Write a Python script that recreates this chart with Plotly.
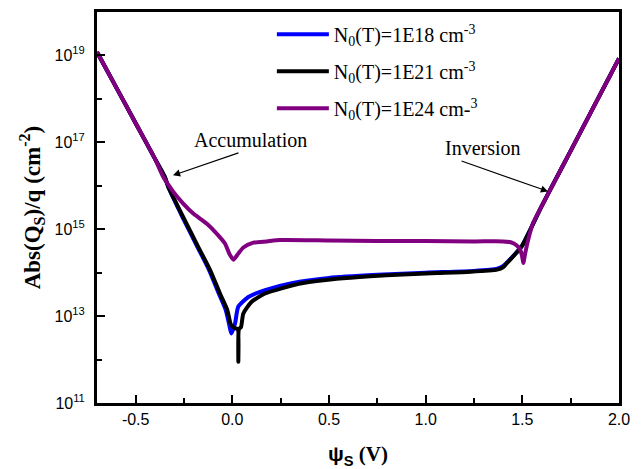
import numpy as np
import plotly.graph_objects as go

# Surface potential psi_S (V) and log10 of |Q_S|/q (cm^-2) for each trap density
psi_blue = [-0.70, -0.60, -0.50, -0.40, -0.35, -0.331, -0.258, -0.18, -0.12, -0.07,
            -0.034, -0.016, -0.005, 0.014, 0.031, 0.083, 0.169, 0.307, 0.50, 0.75,
            1.00, 1.25, 1.37, 1.40, 1.45, 1.50, 1.54, 1.60, 1.70, 1.80, 1.90, 2.00]
logq_blue = [19.08, 18.26, 17.44, 16.62, 16.21, 15.97, 15.28, 14.59, 14.06, 13.52,
             13.14, 12.80, 12.60, 12.83, 13.22, 13.44, 13.60, 13.76, 13.88, 13.95,
             14.00, 14.04, 14.09, 14.15, 14.37, 14.63, 14.98, 15.53, 16.38, 17.23, 18.08, 18.93]

psi_black = [-0.70, -0.60, -0.50, -0.40, -0.35, -0.331, -0.254, -0.176, -0.115, -0.064,
             -0.026, -0.007, 0.014, 0.028, 0.031, 0.034, 0.045, 0.057, 0.100, 0.169,
             0.255, 0.366, 0.54, 0.712, 0.883, 1.06, 1.23, 1.37, 1.40, 1.42, 1.45,
             1.50, 1.54, 1.60, 1.70, 1.80, 1.90, 2.00]
logq_black = [19.08, 18.26, 17.44, 16.62, 16.21, 15.97, 15.28, 14.59, 14.06, 13.52,
              13.14, 12.80, 12.72, 12.70, 11.95, 12.70, 12.75, 13.06, 13.33, 13.52,
              13.64, 13.76, 13.86, 13.92, 13.96, 13.99, 14.02, 14.07, 14.12, 14.22, 14.36,
              14.63, 14.98, 15.53, 16.38, 17.23, 18.08, 18.93]

psi_purple = [-0.70, -0.60, -0.50, -0.40, -0.357, -0.305, -0.254, -0.202, -0.133, -0.081,
              -0.038, -0.016, 0.005, 0.031, 0.057, 0.109, 0.178, 0.247, 0.50, 0.75,
              1.00, 1.25, 1.40, 1.44, 1.47, 1.49, 1.50, 1.505, 1.515, 1.53, 1.555,
              1.60, 1.70, 1.80, 1.90, 2.00]
logq_purple = [19.08, 18.26, 17.44, 16.62, 16.20, 15.86, 15.59, 15.36, 15.13, 14.90,
               14.67, 14.44, 14.30, 14.44, 14.58, 14.69, 14.72, 14.75, 14.74, 14.73,
               14.73, 14.72, 14.72, 14.70, 14.63, 14.52, 14.35, 14.22, 14.45, 14.75, 15.14,
               15.53, 16.38, 17.23, 18.08, 18.93]

series = [
    ("N<sub>0</sub>(T)=1E18 cm<sup>-3</sup>", psi_blue, logq_blue, "#0000FF"),
    ("N<sub>0</sub>(T)=1E21 cm<sup>-3</sup>", psi_black, logq_black, "#000000"),
    ("N<sub>0</sub>(T)=1E24 cm-<sup>3</sup>", psi_purple, logq_purple, "#800080"),
]

ytick_exp = [11, 13, 15, 17, 19]
yminor_exp = [12, 14, 16, 18]
xtick_vals = [-0.5, 0.0, 0.5, 1.0, 1.5, 2.0]
xtick_text = ["-0.5", "0.0", "0.5", "1.0", "1.5", "2.0"]
xminor_vals = [-0.25, 0.25, 0.75, 1.25, 1.75]

SERIF = "Liberation Serif, Times New Roman, serif"
SANS = "Liberation Sans, Arial, sans-serif"

fig = go.Figure()
for i, (name, x, ly, color) in enumerate(series):
    fig.add_trace(go.Scatter(
        x=x, y=10 ** np.array(ly), mode="lines", name=name,
        legendgroup=f"g{i}",
        line=dict(color=color, width=4, shape="spline", smoothing=0.6),
    ))

axis_common = dict(
    showline=True, linewidth=3, linecolor="black", mirror=True,
    ticks="inside", ticklen=8, tickwidth=2, tickcolor="black",
    showgrid=False, zeroline=False, automargin=False,
    tickfont=dict(family=SANS, size=16, color="black"),
)

fig.update_xaxes(
    **axis_common,
    range=[-0.7, 2.0],
    tickmode="array", tickvals=xtick_vals, ticktext=xtick_text,
    minor=dict(tickmode="array", tickvals=xminor_vals, ticks="inside",
               ticklen=5, tickwidth=2, tickcolor="black"),
    title=dict(
        text="<b><span style='font-family:Liberation Sans'>ψ<sub>S</sub></span> (V)</b>",
        font=dict(family=SERIF, size=21, color="black"), standoff=20),
)

fig.update_yaxes(
    **axis_common,
    type="log", range=[11, 20],
    tickmode="array", tickvals=[10.0 ** e for e in ytick_exp],
    ticktext=[f"10<sup>{e}</sup>" for e in ytick_exp],
    ticklabelstandoff=6,
    minor=dict(tickmode="array", tickvals=[10.0 ** e for e in yminor_exp], ticks="inside",
               ticklen=5, tickwidth=2, tickcolor="black"),
    title=dict(
        text="<b>Abs(Q<sub>S</sub>)/q (cm<sup>-2</sup>)</b>",
        font=dict(family=SERIF, size=23, color="black"), standoff=8),
)

arrow_style = dict(showarrow=True, arrowhead=2, arrowsize=1.2, arrowwidth=1.2,
                   arrowcolor="black", text="", xref="x", yref="y")
fig.add_annotation(x=-0.307, y=16.24, ax=67, ay=-23, **arrow_style)
fig.add_annotation(x=1.633, y=15.87, ax=-88, ay=-31, **arrow_style)

label_font = dict(family=SERIF, size=20, color="black")
fig.add_annotation(x=0.0915, y=17.05, text="Accumulation", showarrow=False,
                   xref="x", yref="y", font=label_font)
fig.add_annotation(x=1.294, y=16.86, text="Inversion", showarrow=False,
                   xref="x", yref="y", font=label_font)

fig.update_layout(
    width=643, height=469,
    margin=dict(l=97, r=24, t=12, b=66),
    paper_bgcolor="white", plot_bgcolor="white",
    showlegend=True,
    legend=dict(
        x=0.335, y=0.993, xanchor="left", yanchor="top",
        bgcolor="rgba(0,0,0,0)", borderwidth=0,
        font=dict(family=SERIF, size=20, color="black"),
        itemwidth=52, tracegroupgap=8,
    ),
)

fig.write_html("out.html")
